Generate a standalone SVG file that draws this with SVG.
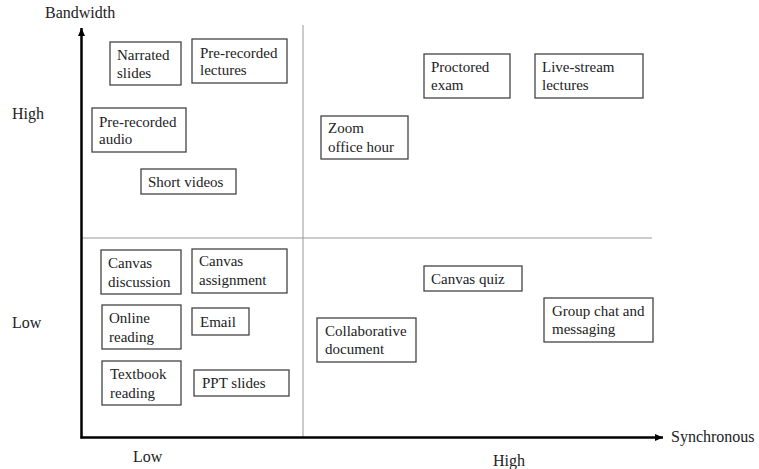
<svg xmlns="http://www.w3.org/2000/svg" width="759" height="469" viewBox="0 0 759 469">
<style>
text{font-family:"Liberation Serif","Times New Roman",serif;fill:#222}
.lbl{font-size:16px}
.nt{font-size:15px}
.box{fill:#fff;stroke:#444;stroke-width:1.3}
.grid{stroke:#999;stroke-width:1;fill:none}
.axis{stroke:#000;stroke-width:2.5;fill:none}
</style>
<defs>
<marker id="ah" markerUnits="userSpaceOnUse" markerWidth="10" markerHeight="8" refX="8" refY="4" orient="auto">
<path d="M0,0.5 L8,4 L0,7.5 z" fill="#000"/>
</marker>
</defs>
<rect width="759" height="469" fill="#fff"/>
<g id="connectors">
<line class="grid" x1="303" y1="25" x2="303" y2="437"/>
<line class="grid" x1="82" y1="238" x2="652" y2="238"/>
<line class="axis" x1="81.5" y1="438.5" x2="81.5" y2="28" marker-end="url(#ah)"/>
<line class="axis" x1="80.5" y1="437.5" x2="663" y2="437.5" marker-end="url(#ah)"/>
</g>
<g id="labels">
<text class="lbl" x="45" y="18">Bandwidth</text>
<text class="lbl" x="671" y="442">Synchronous</text>
<text class="lbl" x="12" y="119">High</text>
<text class="lbl" x="12" y="328">Low</text>
<text class="lbl" x="133" y="462">Low</text>
<text class="lbl" x="493" y="466">High</text>
</g>
<g id="n-narrated"><rect class="box" x="110" y="42" width="71" height="43"/><text class="nt" x="117" y="60">Narrated</text><text class="nt" x="117" y="78">slides</text></g>
<g id="n-prelectures"><rect class="box" x="192" y="39" width="95" height="44"/><text class="nt" x="200" y="58">Pre-recorded</text><text class="nt" x="200" y="75">lectures</text></g>
<g id="n-preaudio"><rect class="box" x="92" y="108" width="94" height="44"/><text class="nt" x="99" y="127">Pre-recorded</text><text class="nt" x="99" y="144">audio</text></g>
<g id="n-short"><rect class="box" x="141" y="169" width="95" height="25"/><text class="nt" x="148" y="187">Short videos</text></g>
<g id="n-proctored"><rect class="box" x="424" y="54" width="86" height="44"/><text class="nt" x="431" y="72">Proctored</text><text class="nt" x="431" y="90">exam</text></g>
<g id="n-live"><rect class="box" x="535" y="54" width="108" height="44"/><text class="nt" x="542" y="72">Live-stream</text><text class="nt" x="542" y="90">lectures</text></g>
<g id="n-zoom"><rect class="box" x="321" y="116" width="87" height="43"/><text class="nt" x="328" y="133">Zoom</text><text class="nt" x="328" y="152">office hour</text></g>
<g id="n-cdisc"><rect class="box" x="101" y="250" width="80" height="44"/><text class="nt" x="108" y="268">Canvas</text><text class="nt" x="108" y="287">discussion</text></g>
<g id="n-cassign"><rect class="box" x="192" y="249" width="95" height="44"/><text class="nt" x="199" y="266">Canvas</text><text class="nt" x="199" y="285">assignment</text></g>
<g id="n-online"><rect class="box" x="102" y="305" width="79" height="44"/><text class="nt" x="109" y="323">Online</text><text class="nt" x="109" y="342">reading</text></g>
<g id="n-email"><rect class="box" x="192" y="308" width="57" height="27"/><text class="nt" x="200" y="327">Email</text></g>
<g id="n-textbook"><rect class="box" x="102" y="361" width="79" height="44"/><text class="nt" x="110" y="379">Textbook</text><text class="nt" x="110" y="398">reading</text></g>
<g id="n-ppt"><rect class="box" x="194" y="370" width="95" height="26"/><text class="nt" x="202" y="388">PPT slides</text></g>
<g id="n-quiz"><rect class="box" x="424" y="266" width="98" height="25"/><text class="nt" x="431" y="284">Canvas quiz</text></g>
<g id="n-group"><rect class="box" x="544" y="298" width="109" height="44"/><text class="nt" x="552" y="316">Group chat and</text><text class="nt" x="552" y="334">messaging</text></g>
<g id="n-collab"><rect class="box" x="317" y="318" width="99" height="44"/><text class="nt" x="325" y="336">Collaborative</text><text class="nt" x="325" y="354">document</text></g>
</svg>
